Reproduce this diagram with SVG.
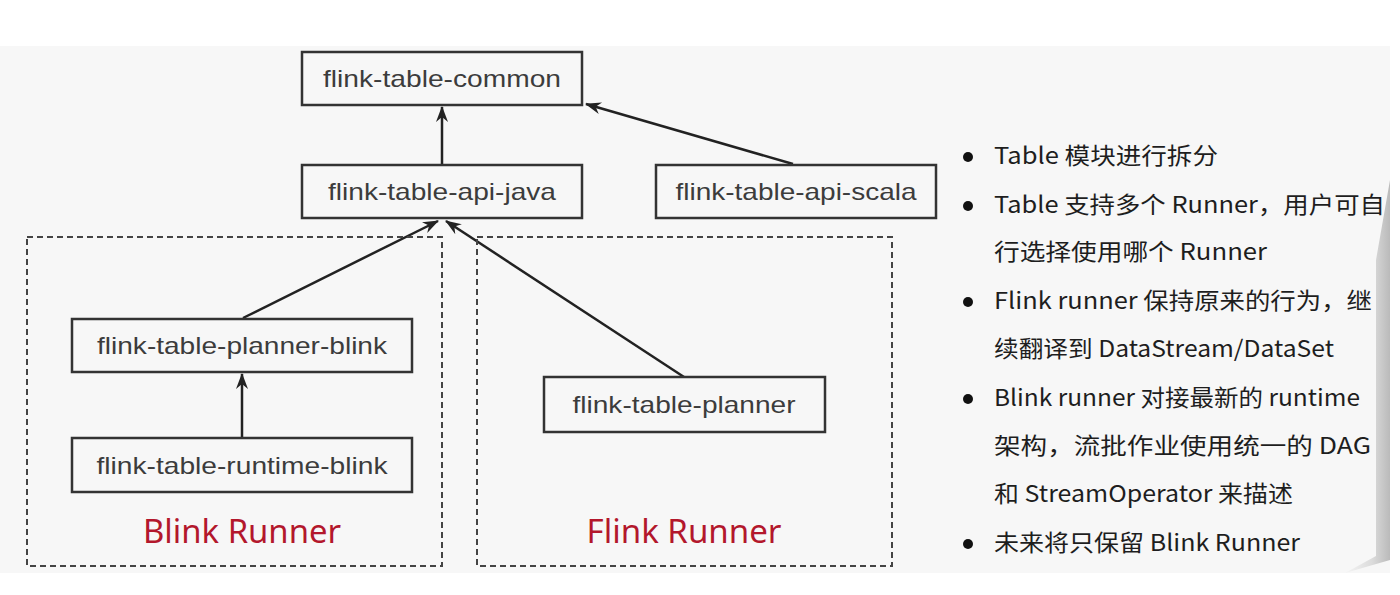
<svg xmlns="http://www.w3.org/2000/svg" width="1400" height="595" viewBox="0 0 1400 595">
<style>
.node{fill:none;stroke:#333;stroke-width:2.5}
.group{fill:none;stroke:#444;stroke-width:2;stroke-dasharray:6 4}
.lbl{font-family:"Liberation Sans",Arial,sans-serif;font-size:24px;fill:#3c3c3c;text-anchor:middle}
.runner{font-family:"Noto Sans","Liberation Sans",sans-serif;font-size:33px;fill:#b3172c;text-anchor:middle}
.edge{stroke:#222;stroke-width:2.5;fill:none;marker-end:url(#arr)}
.note{font-family:"Noto Sans CJK SC","Noto Sans",sans-serif;font-size:23px;fill:#1e1e1e}
.dot{fill:#111}
</style>
<defs>
<marker id="arr" markerUnits="userSpaceOnUse" markerWidth="18" markerHeight="14" refX="15" refY="6" orient="auto">
<path d="M0,0 L16,6 L0,12 L5,6 z" fill="#222"/>
</marker>
<linearGradient id="shade" x1="0" y1="0" x2="1" y2="0">
<stop offset="0" stop-color="#f4f4f4"/>
<stop offset="0.6" stop-color="#d0d0d0"/>
<stop offset="1" stop-color="#a0a0a0"/>
</linearGradient>
</defs>
<rect x="0" y="0" width="1400" height="595" fill="#ffffff"/>
<rect x="0" y="46" width="1390" height="527" fill="#f7f7f7"/>
<path d="M1376,260 L1390,180 L1390,560 L1345,573 L1376,556 Z" fill="url(#shade)" opacity="0.7"/>

<g id="connectors">
<line class="edge" x1="442" y1="164" x2="442" y2="107"/>
<line class="edge" x1="793" y1="164" x2="586" y2="104"/>
<line class="edge" x1="243" y1="318" x2="438" y2="221"/>
<line class="edge" x1="684" y1="377" x2="446" y2="221"/>
<line class="edge" x1="242" y1="437" x2="242" y2="374"/>
</g>

<g id="group-blink">
<rect class="group" x="27" y="237" width="415" height="329"/>
<text class="runner" x="242" y="543" textLength="198" lengthAdjust="spacingAndGlyphs">Blink Runner</text>
</g>
<g id="group-flink">
<rect class="group" x="477" y="237" width="415" height="329"/>
<text class="runner" x="684" y="543" textLength="195" lengthAdjust="spacingAndGlyphs">Flink Runner</text>
</g>

<g id="node-common">
<rect class="node" x="302" y="52" width="280" height="53"/>
<text class="lbl" x="442" y="87" textLength="238" lengthAdjust="spacingAndGlyphs">flink-table-common</text>
</g>
<g id="node-api-java">
<rect class="node" x="302" y="165" width="280" height="53"/>
<text class="lbl" x="442" y="200" textLength="228" lengthAdjust="spacingAndGlyphs">flink-table-api-java</text>
</g>
<g id="node-api-scala">
<rect class="node" x="656" y="165" width="280" height="53"/>
<text class="lbl" x="796" y="200" textLength="241" lengthAdjust="spacingAndGlyphs">flink-table-api-scala</text>
</g>
<g id="node-planner-blink">
<rect class="node" x="72" y="319" width="340" height="53"/>
<text class="lbl" x="242" y="354" textLength="290" lengthAdjust="spacingAndGlyphs">flink-table-planner-blink</text>
</g>
<g id="node-runtime-blink">
<rect class="node" x="72" y="438" width="340" height="54"/>
<text class="lbl" x="242" y="474" textLength="291" lengthAdjust="spacingAndGlyphs">flink-table-runtime-blink</text>
</g>
<g id="node-planner">
<rect class="node" x="544" y="377" width="281" height="55"/>
<text class="lbl" x="684" y="413" textLength="223" lengthAdjust="spacingAndGlyphs">flink-table-planner</text>
</g>

<g id="notes">
<circle class="dot" cx="968" cy="157" r="5"/>
<text class="note" x="994" y="164" textLength="224" lengthAdjust="spacingAndGlyphs">Table 模块进行拆分</text>
<circle class="dot" cx="968" cy="206" r="5"/>
<text class="note" x="994" y="213" textLength="391" lengthAdjust="spacingAndGlyphs">Table 支持多个 Runner，用户可自</text>
<text class="note" x="994" y="260" textLength="273" lengthAdjust="spacingAndGlyphs">行选择使用哪个 Runner</text>
<circle class="dot" cx="968" cy="302" r="5"/>
<text class="note" x="994" y="309" textLength="378" lengthAdjust="spacingAndGlyphs">Flink runner 保持原来的行为，继</text>
<text class="note" x="994" y="357" textLength="340" lengthAdjust="spacingAndGlyphs">续翻译到 DataStream/DataSet</text>
<circle class="dot" cx="968" cy="399" r="5"/>
<text class="note" x="994" y="406" textLength="366" lengthAdjust="spacingAndGlyphs">Blink runner 对接最新的 runtime</text>
<text class="note" x="994" y="454" textLength="377" lengthAdjust="spacingAndGlyphs">架构，流批作业使用统一的 DAG</text>
<text class="note" x="994" y="502" textLength="299" lengthAdjust="spacingAndGlyphs">和 StreamOperator 来描述</text>
<circle class="dot" cx="968" cy="544" r="5"/>
<text class="note" x="994" y="551" textLength="306" lengthAdjust="spacingAndGlyphs">未来将只保留 Blink Runner</text>
</g>
</svg>
